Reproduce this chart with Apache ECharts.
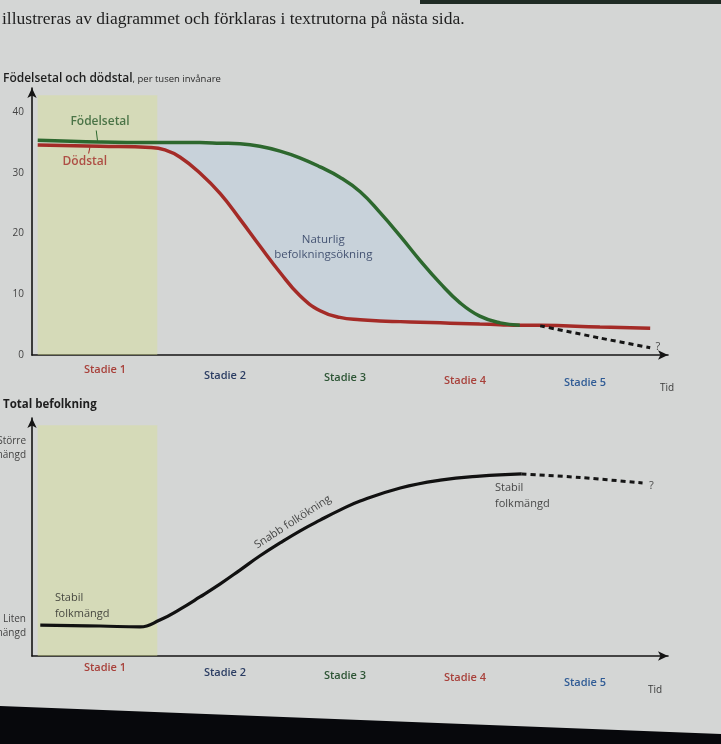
<!DOCTYPE html>
<html><head><meta charset="utf-8">
<script src="https://cdn.jsdelivr.net/npm/echarts@6/dist/echarts.min.js"></script>
<style>html,body{margin:0;padding:0;background:#d4d6d5}#c{width:721px;height:744px}</style>
</head><body><div id="c"></div><script>
const FONT = '"Open Sans", "Noto Sans", sans-serif';

// ---- data ----
const stages = ['Stadie 1', 'Stadie 2', 'Stadie 3', 'Stadie 4', 'Stadie 5'];
const stageColors = ['#a8403a', '#2b3d63', '#2c5434', '#a8403a', '#2f5b95'];
const topTicks = [0, 10, 20, 30, 40];
const popTickLabels = { 12.5: 'Liten\nmängd', 87.5: 'Större\nmängd' };

// time axis (0..100) for the rate chart
const tTop = [0.9, 10.7, 18.6, 20.9, 23.3, 26.4, 29.6, 32.7, 35.8, 39.0, 42.1, 45.3, 48.4, 51.6, 54.7, 57.9, 61.0, 64.2, 67.3, 70.4, 73.6, 76.7];
const birthRate = [35.4, 35.1, 35.0, 35.0, 35.0, 35.0, 34.9, 34.8, 34.4, 33.6, 32.5, 31.0, 29.3, 26.9, 23.5, 19.6, 15.6, 11.8, 8.6, 6.4, 5.3, 4.9];
const deathRate = [34.6, 34.4, 34.2, 33.8, 32.6, 30.0, 26.6, 22.4, 18.0, 13.6, 9.8, 7.3, 6.2, 5.8, 5.6, 5.5, 5.4, 5.3, 5.2, 5.1, 5.0, 4.9];
const tDeathTail = [79.9, 89.3, 97.2];
const deathTail = [4.9, 4.6, 4.4];
const tBirthFuture = [79.9, 89.3, 97.2];
const birthFuture = [4.8, 2.8, 1.2];

// total population chart
const tPop = [1.3, 10.7, 17.0, 20.1, 23.3, 26.4, 29.6, 32.7, 35.8, 39.0, 42.1, 45.3, 48.4, 51.6, 57.9, 64.2, 70.4, 77.0];
const population = [13.0, 12.6, 12.2, 15.1, 19.7, 24.8, 30.3, 36.1, 42.0, 47.5, 52.5, 57.1, 61.3, 65.1, 70.6, 73.9, 75.6, 76.5];
const tPopFuture = [77.0, 86.2, 96.0];
const popFuture = [76.5, 75.0, 72.7];

const stage1Span = [0.9, 19.7];

const zip = (a, b) => a.map((v, i) => [v, b[i]]);

const topOffsets = [0, 6, 8, 11, 13];
const botOffsets = [0, 5, 8, 10, 15];
function stageRich(offsets) {
  const r = {};
  stages.forEach((s, i) => {
    r['s' + i] = { color: stageColors[i], fontSize: 11, fontWeight: 600, fontFamily: FONT, padding: [offsets[i], 0, 0, 0] };
  });
  return r;
}

const chart = echarts.init(document.getElementById('c'), null, { renderer: 'canvas' });

const axisLineStyle = { color: '#141414', width: 1.6 };
const arrow = { show: true, symbol: ['none', 'arrow'], symbolSize: [7, 10], lineStyle: axisLineStyle };
const SMOOTH = 0.45;

const option = {
  backgroundColor: '#d4d6d5',
  animation: false,
  title: [
    { text: 'illustreras av diagrammet och förklaras i textrutorna på nästa sida.', left: 2, top: 10, padding: 0,
      textStyle: { fontFamily: '"Liberation Serif", "DejaVu Serif", serif', fontSize: 17.5, fontWeight: 'normal', color: '#1e1e1e' } },
    { text: '{a|Födelsetal och dödstal}{b|, per tusen invånare}', left: 3, top: 73, padding: 0,
      textStyle: { rich: {
        a: { fontFamily: FONT, fontSize: 12, fontWeight: 600, color: '#1e1e1e' },
        b: { fontFamily: FONT, fontSize: 9.5, fontWeight: 'normal', color: '#2a2a2a' } } } },
    { text: 'Total befolkning', left: 3, top: 399, padding: 0,
      textStyle: { fontFamily: FONT, fontSize: 11.5, fontWeight: 700, color: '#1e1e1e' } }
  ],
  grid: [
    { left: 32, top: 88, width: 636, height: 267, outerBoundsMode: 'none', containLabel: false },
    { left: 45, top: 88, width: 600, height: 267, outerBoundsMode: 'none', containLabel: false },
    { left: 32, top: 418, width: 636, height: 238, outerBoundsMode: 'none', containLabel: false },
    { left: 45, top: 418, width: 600, height: 238, outerBoundsMode: 'none', containLabel: false }
  ],
  xAxis: [
    { gridIndex: 0, type: 'value', min: 0, max: 100, axisLine: arrow, axisTick: { show: false }, axisLabel: { show: false }, splitLine: { show: false },
      name: 'Tid', nameLocation: 'end', nameGap: -8,
      nameTextStyle: { fontFamily: FONT, fontSize: 10, color: '#3a3a3a', verticalAlign: 'top', padding: [28, 0, 0, 0] } },
    { gridIndex: 1, type: 'category', data: stages, boundaryGap: true, axisLine: { show: false }, axisTick: { show: false }, splitLine: { show: false },
      axisLabel: { margin: 9, formatter: (v, i) => '{s' + i + '|' + v + '}', rich: stageRich(topOffsets) } },
    { gridIndex: 2, type: 'value', min: 0, max: 100, axisLine: arrow, axisTick: { show: false }, axisLabel: { show: false }, splitLine: { show: false },
      name: 'Tid', nameLocation: 'end', nameGap: -20,
      nameTextStyle: { fontFamily: FONT, fontSize: 10, color: '#3a3a3a', verticalAlign: 'top', padding: [29, 0, 0, 0] } },
    { gridIndex: 3, type: 'category', data: stages, boundaryGap: true, axisLine: { show: false }, axisTick: { show: false }, splitLine: { show: false },
      axisLabel: { margin: 6, formatter: (v, i) => '{s' + i + '|' + v + '}', rich: stageRich(botOffsets) } }
  ],
  yAxis: [
    { gridIndex: 0, type: 'value', min: 0, max: 44, interval: 10, axisLine: arrow, axisTick: { show: false }, splitLine: { show: false },
      axisLabel: { showMaxLabel: false, margin: 8, fontFamily: FONT, fontSize: 10, color: '#444',
        formatter: v => topTicks.includes(v) ? String(v) : '' } },
    { gridIndex: 1, type: 'value', show: false, min: 0, max: 1 },
    { gridIndex: 2, type: 'value', min: 0, max: 100, interval: 12.5, axisLine: arrow, axisTick: { show: false }, splitLine: { show: false },
      axisLabel: { showMaxLabel: false, margin: 6, fontFamily: FONT, fontSize: 10, color: '#444', lineHeight: 14, align: 'right',
        formatter: v => popTickLabels[v] || '' } },
    { gridIndex: 3, type: 'value', show: false, min: 0, max: 1 }
  ],
  series: [
    // natural increase: area between birth rate and death rate
    { type: 'custom', coordinateSystem: 'cartesian2d', xAxisIndex: 0, yAxisIndex: 0, data: [[0, 0]], silent: true, z: 1, clip: false,
      renderItem: (params, api) => {
        const up = tTop.map((t, i) => api.coord([t, birthRate[i]]));
        const lo = tTop.map((t, i) => api.coord([t, deathRate[i]])).reverse();
        return { type: 'polygon', shape: { points: up.concat(lo) }, style: { fill: 'rgba(170,200,235,0.28)' } };
      } },
    // death rate
    { name: 'Dödstal', type: 'line', xAxisIndex: 0, yAxisIndex: 0, data: zip(tTop.concat(tDeathTail), deathRate.concat(deathTail)), symbol: 'none', smooth: SMOOTH,
      lineStyle: { color: '#a42b27', width: 3.5 }, z: 3,
      markArea: { silent: true, itemStyle: { color: 'rgba(215,225,140,0.4)' },
        data: [[{ xAxis: stage1Span[0], yAxis: 0 }, { xAxis: stage1Span[1], yAxis: 42.8 }]] } },
    // birth rate
    { name: 'Födelsetal', type: 'line', xAxisIndex: 0, yAxisIndex: 0, data: zip(tTop, birthRate), symbol: 'none', smooth: SMOOTH,
      lineStyle: { color: '#2d682e', width: 3.5 }, z: 4 },
    // possible future birth rate
    { type: 'line', xAxisIndex: 0, yAxisIndex: 0, data: zip(tBirthFuture, birthFuture), symbol: 'none', smooth: 0.3,
      lineStyle: { color: '#151515', width: 3, type: [5, 4] }, z: 5 },
    // leader lines
    { type: 'line', xAxisIndex: 0, yAxisIndex: 0, data: [[10.1, 37.0], [10.3, 35.3]], symbol: 'none', lineStyle: { color: '#2d682e', width: 1 }, z: 5 },
    { type: 'line', xAxisIndex: 0, yAxisIndex: 0, data: [[9.1, 34.2], [8.9, 33.2]], symbol: 'none', lineStyle: { color: '#a42b27', width: 1 }, z: 5 },
    // annotations (top)
    { type: 'scatter', xAxisIndex: 0, yAxisIndex: 0, symbolSize: 0, silent: true, z: 6,
      label: { show: true, position: 'inside', fontFamily: FONT, fontSize: 11 },
      data: [
        { value: [10.7, 38.5], label: { formatter: 'Födelsetal', color: '#285a2a', fontSize: 12, fontWeight: 600 } },
        { value: [8.3, 31.8], label: { formatter: 'Dödstal', color: '#a42b27', fontSize: 12, fontWeight: 600 } },
        { value: [45.8, 17.8], label: { formatter: 'Naturlig\nbefolkningsökning', color: '#1f2f55', fontSize: 11.5, lineHeight: 15, align: 'center' } },
        { value: [98.4, 1.4], label: { formatter: '?', color: '#222', fontSize: 11 } }
      ] },
    // total population
    { name: 'Total befolkning', type: 'line', xAxisIndex: 2, yAxisIndex: 2, data: zip(tPop, population), symbol: 'none', smooth: SMOOTH,
      lineStyle: { color: '#111', width: 3.2 }, z: 3,
      markArea: { silent: true, itemStyle: { color: 'rgba(215,225,140,0.4)' },
        data: [[{ xAxis: stage1Span[0], yAxis: 0 }, { xAxis: stage1Span[1], yAxis: 97 }]] } },
    { type: 'line', xAxisIndex: 2, yAxisIndex: 2, data: zip(tPopFuture, popFuture), symbol: 'none', smooth: 0.3,
      lineStyle: { color: '#151515', width: 3, type: [5, 4] }, z: 3 },
    // annotations (bottom)
    { type: 'scatter', xAxisIndex: 2, yAxisIndex: 2, symbolSize: 0, silent: true, z: 6,
      label: { show: true, fontFamily: FONT, fontSize: 11, color: '#1e1e1e', lineHeight: 16 },
      data: [
        { value: [3.6, 21], label: { formatter: 'Stabil\nfolkmängd', position: 'right', distance: 0, align: 'left' } },
        { value: [72.8, 67.2], label: { formatter: 'Stabil\nfolkmängd', position: 'right', distance: 0, align: 'left' } },
        { value: [41.0, 56.3], label: { formatter: 'Snabb folkökning', position: 'inside', rotate: 33 } },
        { value: [97.4, 71.6], label: { formatter: '?', position: 'inside' } }
      ] }
  ],
  graphic: [
    { type: 'rect', shape: { x: 420, y: 0, width: 301, height: 4 }, style: { fill: '#1f2b24' }, z: 100 },
    { type: 'polygon', shape: { points: [[0, 706], [721, 734], [721, 744], [0, 744]] }, style: { fill: '#07080c' }, z: 100 }
  ]
};
chart.setOption(option);
</script></body></html>
